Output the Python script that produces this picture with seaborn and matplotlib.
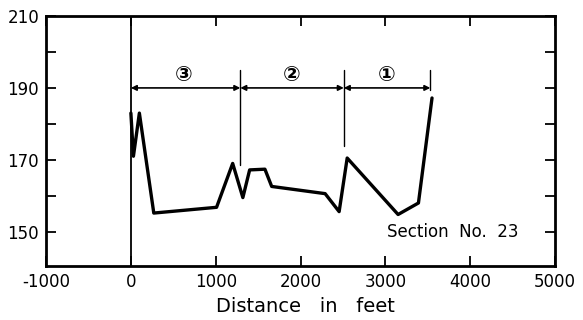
import matplotlib
matplotlib.use("Agg")
import matplotlib.pyplot as plt
import seaborn as sns
import pandas as pd

# Profile data (distance in feet, elevation)
distance = [0, 30, 100, 270, 1010, 1200, 1320, 1400, 1580, 1660, 2290, 2455, 2550, 3150, 3390, 3550]
elevation = [183, 171, 183, 155.2, 156.8, 169, 159.5, 167.2, 167.4, 162.6, 160.6, 155.6, 170.5, 154.8, 158, 187.2]

boundaries = [0, 1290, 2510, 3530]
boundary_bottoms = [141, 168.6, 173.9, 189.3]
section_labels = ["③", "②", "①"]
section_label_x = [620, 1900, 3020]

x_ticks = [-1000, 0, 1000, 2000, 3000, 4000, 5000]
y_major = [150, 170, 190, 210]
y_minor = [160, 180, 200]

sns.set_style("ticks")
plt.rcParams['font.family'] = ['DejaVu Sans']

fig = plt.figure(figsize=(5.83, 3.2), dpi=100)
ax = fig.add_axes([0.079, 0.169, 0.873, 0.781])

df = pd.DataFrame({"Distance": distance, "Elevation": elevation})
sns.lineplot(data=df, x="Distance", y="Elevation", ax=ax, color="black",
             linewidth=2.4, sort=False, estimator=None)

ax.set_xlim(-1000, 5000)
ax.set_ylim(140.5, 210)

# vertical line at 0 full height
ax.axvline(0, color="black", linewidth=1.3)
for b, yb in zip(boundaries[1:], boundary_bottoms[1:]):
    ax.plot([b, b], [195, yb], color="black", linewidth=1.0)

# arrows
for i in range(3):
    ax.annotate("", xy=(boundaries[i], 190), xytext=(boundaries[i + 1], 190),
                arrowprops=dict(arrowstyle="<|-|>", color="black", lw=1.2,
                                shrinkA=0, shrinkB=0, mutation_scale=8))
    ax.text(section_label_x[i], 193.5, section_labels[i], ha="center", va="center",
            fontsize=15, fontweight="bold", color="black")

ax.text(3020, 150, "Section  No.  23", ha="left", va="center", fontsize=12, color="black")

ax.set_xticks(x_ticks)
ax.set_xticklabels([str(t) for t in x_ticks], fontsize=12)
ax.set_yticks(y_major)
ax.set_yticklabels([str(t) for t in y_major], fontsize=12)
ax.set_yticks(y_minor, minor=True)
ax.tick_params(axis="both", which="both", direction="in", length=7, width=1.3,
               top=True, right=True, pad=5, colors="black")
ax.tick_params(axis="x", which="major", top=True, labeltop=False)

for s in ax.spines.values():
    s.set_linewidth(2)
    s.set_color("black")
    s.set_visible(True)

ax.set_ylabel("")
ax.set_xlabel("Distance   in   feet", fontsize=14, color="black")
ax.xaxis.set_label_coords(0.51, -0.125)

fig.savefig("out.png", dpi=100)
